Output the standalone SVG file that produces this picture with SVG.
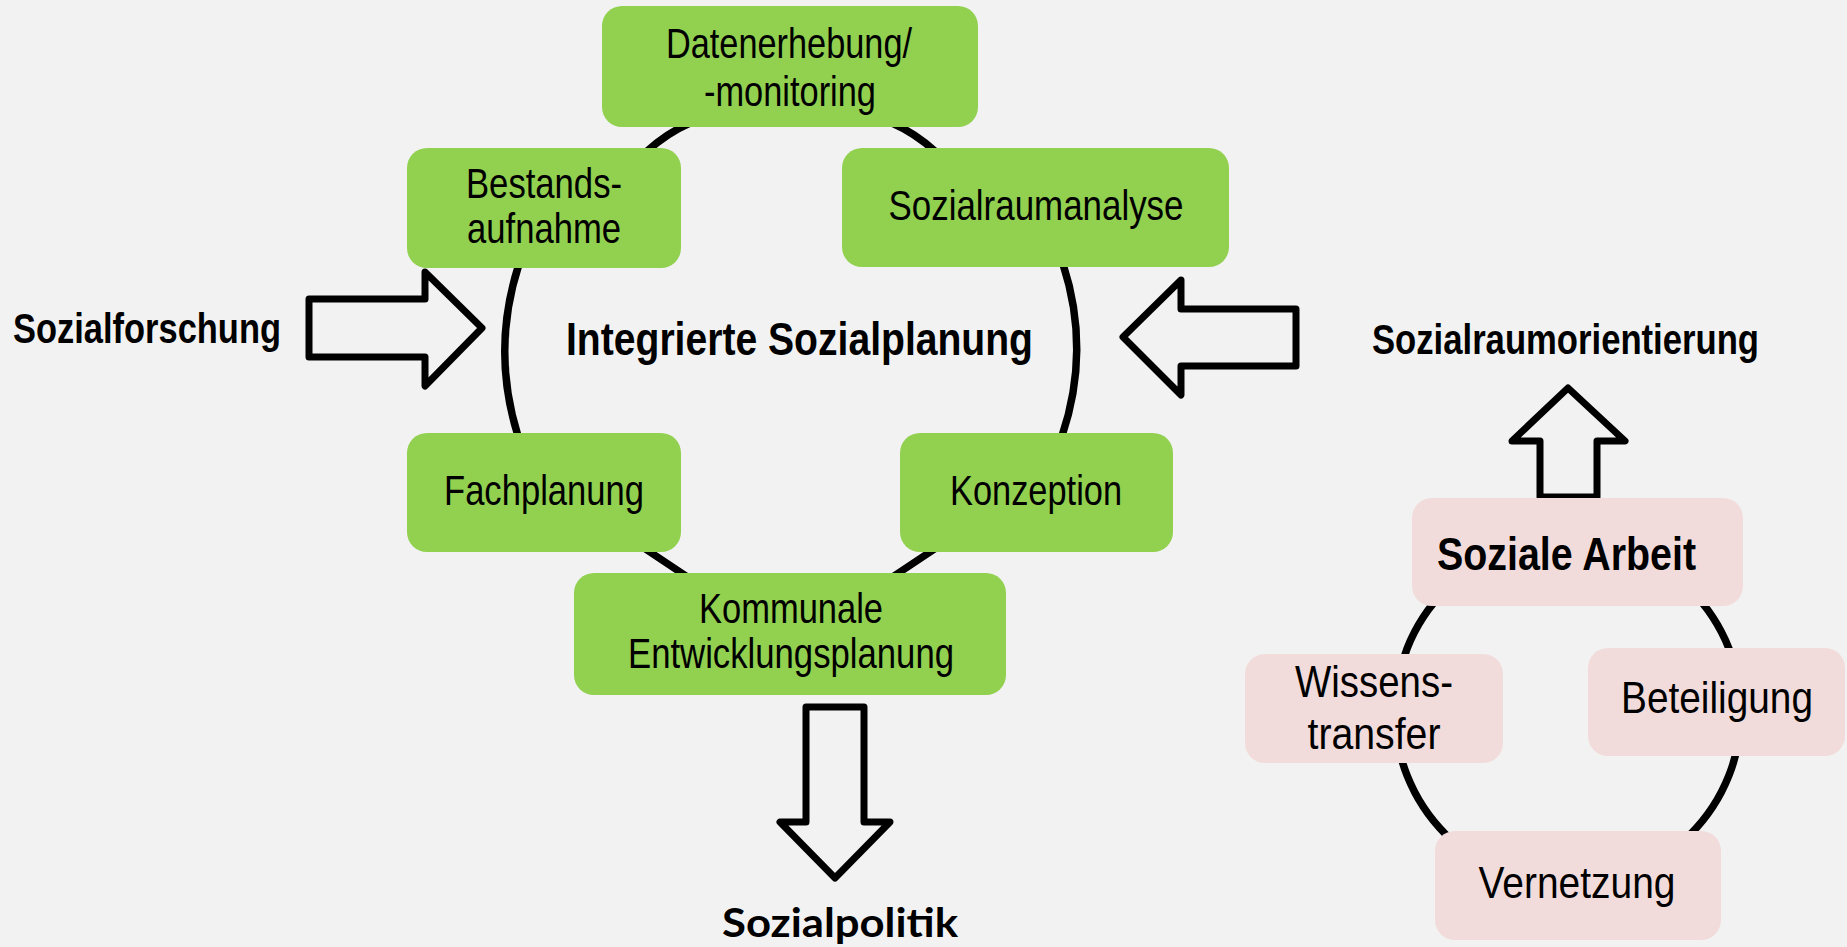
<svg xmlns="http://www.w3.org/2000/svg" width="1847" height="947" viewBox="0 0 1847 947">
<style>
  .bg{fill:#F2F2F2}
  .green{fill:#92D050}
  .pink{fill:#F2DCDB}
  .ring{fill:none;stroke:#000;stroke-width:7.5}
  .arrow{fill:none;stroke:#000;stroke-width:7;stroke-linejoin:round}
  text{font-family:'Liberation Sans Narrow','Arial Narrow','Liberation Sans',Arial,sans-serif;fill:#000}
  .lbl{font-size:42px;text-anchor:middle}
  .plbl{font-size:44px;text-anchor:middle}
  .bold{font-weight:bold;font-size:42px}
  .title{font-weight:bold;font-size:47px}
  .calibri{font-family:Lato,'Open Sans','Liberation Sans',sans-serif;font-weight:bold;font-size:40px}
</style>
<rect class="bg" x="0" y="0" width="1847" height="947"/>

<g id="connectors">
  <path class="ring" d="M690,123 Q667,133 646,152"/>
  <path class="ring" d="M892,123 Q915,133 936,152"/>
  <path class="ring" d="M519,264 Q491,350 518,436"/>
  <path class="ring" d="M1063,264 Q1091,350 1062,436"/>
  <path class="ring" d="M644,548 Q665,562 689,578"/>
  <path class="ring" d="M936,548 Q915,562 891,578"/>
  <circle class="ring" cx="1568" cy="712" r="173"/>
  <path class="arrow" d="M309,299 L425,299 L425,272 L482,328 L425,386 L425,357 L309,357 Z"/>
  <path class="arrow" d="M1296,309 L1181,309 L1181,280 L1123,337 L1181,395 L1181,366 L1296,366 Z"/>
  <path class="arrow" d="M806,707 L864,707 L864,822 L890,822 L835,878 L780,822 L806,822 Z"/>
  <path class="arrow" d="M1540,497 L1540,441 L1512,441 L1568,388 L1625,441 L1597,441 L1597,497 Z"/>
</g>

<g id="node-datenerhebung">
  <rect class="green" x="602" y="6" width="376" height="121" rx="20"/>
  <text class="lbl" x="789" y="58" textLength="246" lengthAdjust="spacingAndGlyphs">Datenerhebung/</text>
  <text class="lbl" x="790" y="106" textLength="172" lengthAdjust="spacingAndGlyphs">-monitoring</text>
</g>
<g id="node-bestandsaufnahme">
  <rect class="green" x="407" y="148" width="274" height="120" rx="20"/>
  <text class="lbl" x="544" y="198" textLength="156" lengthAdjust="spacingAndGlyphs">Bestands-</text>
  <text class="lbl" x="544" y="243" textLength="154" lengthAdjust="spacingAndGlyphs">aufnahme</text>
</g>
<g id="node-sozialraumanalyse">
  <rect class="green" x="842" y="148" width="387" height="119" rx="20"/>
  <text class="lbl" x="1036" y="220" textLength="295" lengthAdjust="spacingAndGlyphs">Sozialraumanalyse</text>
</g>
<g id="node-fachplanung">
  <rect class="green" x="407" y="433" width="274" height="119" rx="20"/>
  <text class="lbl" x="544" y="505" textLength="200" lengthAdjust="spacingAndGlyphs">Fachplanung</text>
</g>
<g id="node-konzeption">
  <rect class="green" x="900" y="433" width="273" height="119" rx="20"/>
  <text class="lbl" x="1036" y="505" textLength="172" lengthAdjust="spacingAndGlyphs">Konzeption</text>
</g>
<g id="node-kommunale">
  <rect class="green" x="574" y="573" width="432" height="122" rx="20"/>
  <text class="lbl" x="791" y="623" textLength="184" lengthAdjust="spacingAndGlyphs">Kommunale</text>
  <text class="lbl" x="791" y="668" textLength="326" lengthAdjust="spacingAndGlyphs">Entwicklungsplanung</text>
</g>

<g id="label-sozialforschung">
  <text class="bold" x="13" y="343" textLength="268" lengthAdjust="spacingAndGlyphs">Sozialforschung</text>
</g>
<g id="label-integrierte">
  <text class="title" x="566" y="355" textLength="467" lengthAdjust="spacingAndGlyphs">Integrierte Sozialplanung</text>
</g>
<g id="label-sozialraumorientierung">
  <text class="bold" x="1372" y="354" textLength="387" lengthAdjust="spacingAndGlyphs">Sozialraumorientierung</text>
</g>
<g id="label-sozialpolitik">
  <text class="calibri" x="722" y="937" textLength="236" lengthAdjust="spacingAndGlyphs">Sozialpolitik</text>
</g>

<g id="node-soziale-arbeit">
  <rect class="pink" x="1412" y="498" width="331" height="108" rx="20"/>
  <text class="title" x="1437" y="570" textLength="259" lengthAdjust="spacingAndGlyphs">Soziale Arbeit</text>
</g>
<g id="node-wissenstransfer">
  <rect class="pink" x="1245" y="654" width="258" height="109" rx="20"/>
  <text class="plbl" x="1374" y="697" textLength="158" lengthAdjust="spacingAndGlyphs">Wissens-</text>
  <text class="plbl" x="1374" y="749" textLength="133" lengthAdjust="spacingAndGlyphs">transfer</text>
</g>
<g id="node-beteiligung">
  <rect class="pink" x="1588" y="648" width="257" height="108" rx="20"/>
  <text class="plbl" x="1717" y="713" textLength="192" lengthAdjust="spacingAndGlyphs">Beteiligung</text>
</g>
<g id="node-vernetzung">
  <rect class="pink" x="1435" y="831" width="286" height="109" rx="20"/>
  <text class="plbl" x="1577" y="898" textLength="197" lengthAdjust="spacingAndGlyphs">Vernetzung</text>
</g>
</svg>
